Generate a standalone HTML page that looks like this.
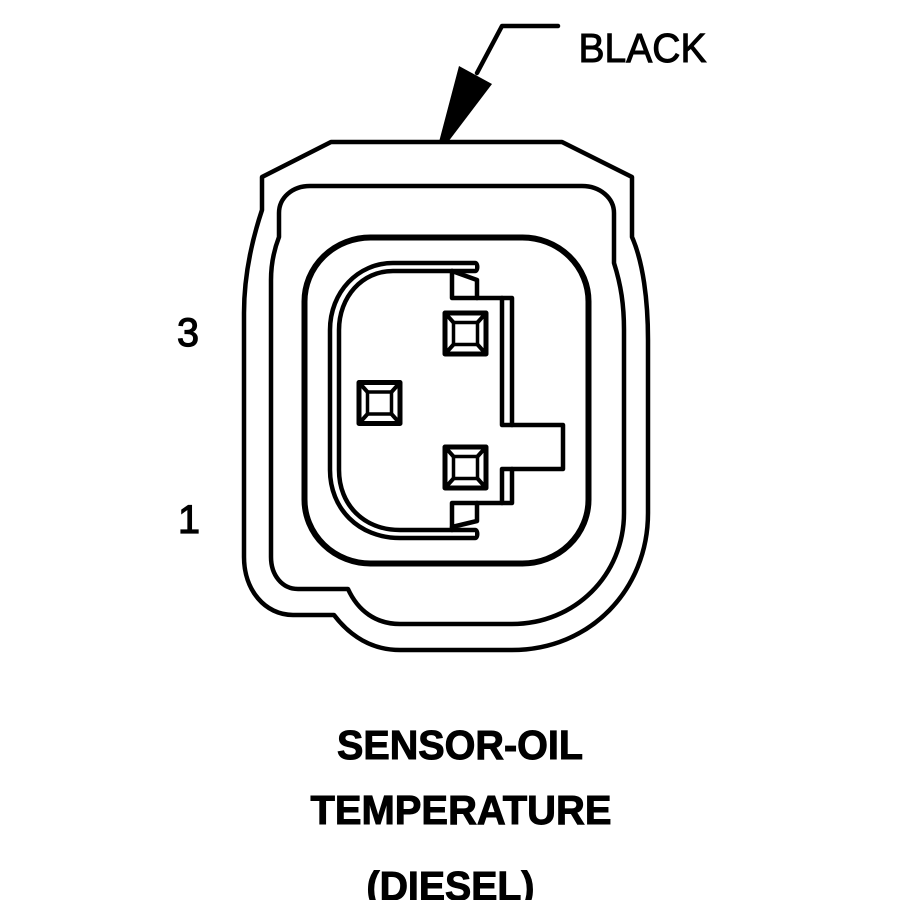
<!DOCTYPE html>
<html><head><meta charset="utf-8"><style>
html,body{margin:0;padding:0;background:#fff}
svg{display:block}
text{font-family:"Liberation Sans",sans-serif;fill:#000}
</style></head><body>
<svg width="900" height="900" viewBox="0 0 900 900" xmlns="http://www.w3.org/2000/svg">
<g fill="none" stroke="#000" stroke-width="4.500" stroke-linejoin="round" stroke-linecap="round">
<path d="M558 26H502L477 73"/>
<path d="M331 142H562L632 177V237C643 262 648 300 648 340V513C648 590 590 650 512 650H400C372 650 350 636 334 615H293C265 615 244 590 244 557V313C244 275 252 240 262 210V177Z"/>
<path d="M310 186H582C600 186 614 198 614 213V263C621 285 624 305 624 330V513C624 575 575 624 512 624H400C376 624 358 611 348 589H298C282 589 271 575 271 557V280C271 265 274 250 279 237V213C279 198 292 186 310 186Z"/>
<rect x="304.500" y="237.500" width="284" height="326" rx="66" ry="64" stroke-width="6"/>
<path d="M475 263H393C358 263 330 292 330 330V470C330 508 358 538 400 538H475C478 538 478 530 475 530H400C364 530 339 505 339 470V330C339 297 362 271 393 271H475C478 271 478 263 475 263Z"/>
<path d="M452 271V298H512V425H563V469H512V503H452V530"/>
<path d="M502 298V425H512M502 469H512M502 469V503"/>
<path d="M452 271L477 280V298M477 503V521L452 527"/>
<g id="a">
<rect x="445" y="313" width="41" height="41" stroke-width="5"/>
<rect x="453.500" y="322.500" width="24" height="22" stroke-width="3.500"/>
<path d="M445 313L453.500 322.500M486 313L477.500 322.500M445 354L453.500 344.500M486 354L477.500 344.500" stroke-width="4"/>
</g>
<use href="#a" x="-86" y="69.500"/>
<use href="#a" x="0" y="134"/>
</g>
<path d="M459 66L492 84L448 142H439Z" fill="#000"/>
<text x="578.500" y="62" font-size="41" textLength="128" lengthAdjust="spacingAndGlyphs" stroke="#000" stroke-width="1">BLACK</text>
<text x="177" y="346" font-size="40" textLength="22" lengthAdjust="spacingAndGlyphs" stroke="#000" stroke-width="1.200">3</text>
<text x="178" y="533" font-size="40" textLength="22" lengthAdjust="spacingAndGlyphs" stroke="#000" stroke-width="1.200">1</text>
<g font-weight="700" font-size="41" stroke="#000" stroke-width="1">
<text x="337" y="759" textLength="246" lengthAdjust="spacingAndGlyphs">SENSOR-OIL</text>
<text x="310.500" y="824" textLength="301" lengthAdjust="spacingAndGlyphs">TEMPERATURE</text>
<text x="366.500" y="900" textLength="168" lengthAdjust="spacingAndGlyphs">(DIESEL)</text>
</g>
</svg>
</body></html>
